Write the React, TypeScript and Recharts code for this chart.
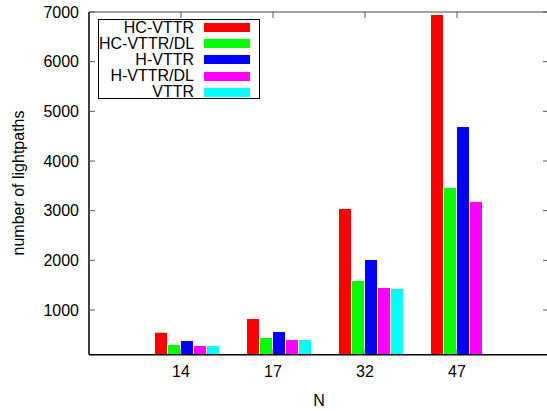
import { BarChart, Bar, XAxis, YAxis, Legend, Label } from "recharts"

// N values on the x axis
const categories = ["14", "17", "32", "47"]

// number of lightpaths per scheme
const hcVttr = [543, 819, 3033, 6940]
const hcVttrDl = [295, 436, 1584, 3456]
const hVttr = [376, 557, 2007, 4684]
const hVttrDl = [275, 396, 1443, 3174]
const vttr = [276, 396, 1423, null]

const seriesNames = ["HC-VTTR", "HC-VTTR/DL", "H-VTTR", "H-VTTR/DL", "VTTR"]
const seriesKeys = ["hcVttr", "hcVttrDl", "hVttr", "hVttrDl", "vttr"]
const seriesColors = ["#ff0000", "#00ff00", "#0000ff", "#ff00ff", "#00ffff"]

const yTicks = [1000, 2000, 3000, 4000, 5000, 6000, 7000]

const data = categories.map((n, i) => ({
    n,
    hcVttr: hcVttr[i],
    hcVttrDl: hcVttrDl[i],
    hVttr: hVttr[i],
    hVttrDl: hVttrDl[i],
    vttr: vttr[i],
}))

const FONT = "'Liberation Sans', Arial, Helvetica, sans-serif"
// gnuplot puts the tick a little left of the cluster centre
const TICK_SHIFT = -6

function BottomTick(props: any) {
    const { x, y, payload } = props
    const tx = x + TICK_SHIFT
    return (
        <g>
            <line x1={tx} x2={tx} y1={y} y2={y - 6} stroke="#555" />
            <text x={tx} y={y + 21.8} textAnchor="middle" fontSize={16} fill="#000">
                {payload.value}
            </text>
        </g>
    )
}

function TopTick(props: any) {
    const { x, y } = props
    const tx = x + TICK_SHIFT
    return <line x1={tx} x2={tx} y1={y} y2={y + 6} stroke="#555" />
}

function LegendBox() {
    return (
        <div
            style={{
                boxSizing: "border-box",
                width: 162,
                height: 80,
                border: "1px solid #000",
                background: "#fff",
                position: "relative",
                fontFamily: FONT,
                fontSize: 16,
                color: "#000",
            }}
        >
            {seriesNames.map((name, i) => {
                const cy = 7.5 + i * 16.2
                return (
                    <div key={name}>
                        <div
                            style={{
                                position: "absolute",
                                left: 0,
                                width: 95,
                                top: cy - 8,
                                lineHeight: "16px",
                                textAlign: "right",
                                whiteSpace: "nowrap",
                            }}
                        >
                            {name}
                        </div>
                        <div
                            style={{
                                position: "absolute",
                                left: 105,
                                width: 46,
                                top: cy - 4.5,
                                height: 9,
                                background: seriesColors[i],
                            }}
                        />
                    </div>
                )
            })}
        </div>
    )
}

export default function App() {
    const W = 460
    const pad = { left: W / 10 - TICK_SHIFT, right: W / 10 + TICK_SHIFT }
    return (
        <div
            style={{
                position: "absolute",
                left: 0,
                top: 0,
                width: 547,
                height: 411,
                overflow: "hidden",
                background: "#fff",
                fontFamily: FONT,
            }}
        >
            <BarChart
                width={552}
                height={411}
                data={data}
                margin={{ top: 11, right: 2, left: 0, bottom: 0 }}
                barSize={12}
                barGap={1}
                style={{ fontFamily: FONT }}
            >
                <XAxis
                    xAxisId="cat"
                    dataKey="n"
                    type="category"
                    padding={pad}
                    height={56.3}
                    interval={0}
                    tickSize={0}
                    tickMargin={0}
                    tickLine={false}
                    tick={<BottomTick />}
                    axisLine={{ stroke: "#000", strokeWidth: 1.5 }}
                >
                    <Label
                        content={() => (
                            <text x={319} y={400.5} textAnchor="middle" dominantBaseline="central" fontSize={16} fill="#000">
                                N
                            </text>
                        )}
                    />
                </XAxis>
                <XAxis
                    xAxisId="top"
                    dataKey="n"
                    type="category"
                    orientation="top"
                    padding={pad}
                    height={1}
                    interval={0}
                    tickSize={0}
                    tickMargin={0}
                    tickLine={false}
                    tick={<TopTick />}
                    axisLine={{ stroke: "#444", strokeWidth: 1 }}
                />
                <YAxis
                    type="number"
                    domain={[100, 7000]}
                    ticks={yTicks}
                    interval={0}
                    width={89}
                    tickSize={-6}
                    tickMargin={16}
                    tick={{ fill: "#000", fontSize: 16 }}
                    tickLine={{ stroke: "#555" }}
                    axisLine={{ stroke: "#000", strokeWidth: 1.5 }}
                    allowDataOverflow
                >
                    <Label
                        content={() => (
                            <text
                                x={18}
                                y={183}
                                transform="rotate(-90 18 183)"
                                textAnchor="middle"
                                dominantBaseline="central"
                                fontSize={16}
                                fill="#000"
                            >
                                number of lightpaths
                            </text>
                        )}
                    />
                </YAxis>
                <YAxis
                    yAxisId="right"
                    orientation="right"
                    type="number"
                    domain={[100, 7000]}
                    ticks={yTicks}
                    interval={0}
                    width={1}
                    tickSize={-6}
                    tickFormatter={() => ""}
                    tickLine={{ stroke: "#555" }}
                    axisLine={{ stroke: "#000", strokeWidth: 1.5 }}
                    allowDataOverflow
                />
                {seriesKeys.map((key, i) => (
                    <Bar
                        key={key}
                        xAxisId="cat"
                        dataKey={key}
                        name={seriesNames[i]}
                        fill={seriesColors[i]}
                        isAnimationActive={false}
                    />
                ))}
                <Legend
                    layout="vertical"
                    align="center"
                    verticalAlign="middle"
                    content={() => <LegendBox />}
                    wrapperStyle={{ left: 98, top: 19, width: 162, height: 80 }}
                />
            </BarChart>
        </div>
    )
}
